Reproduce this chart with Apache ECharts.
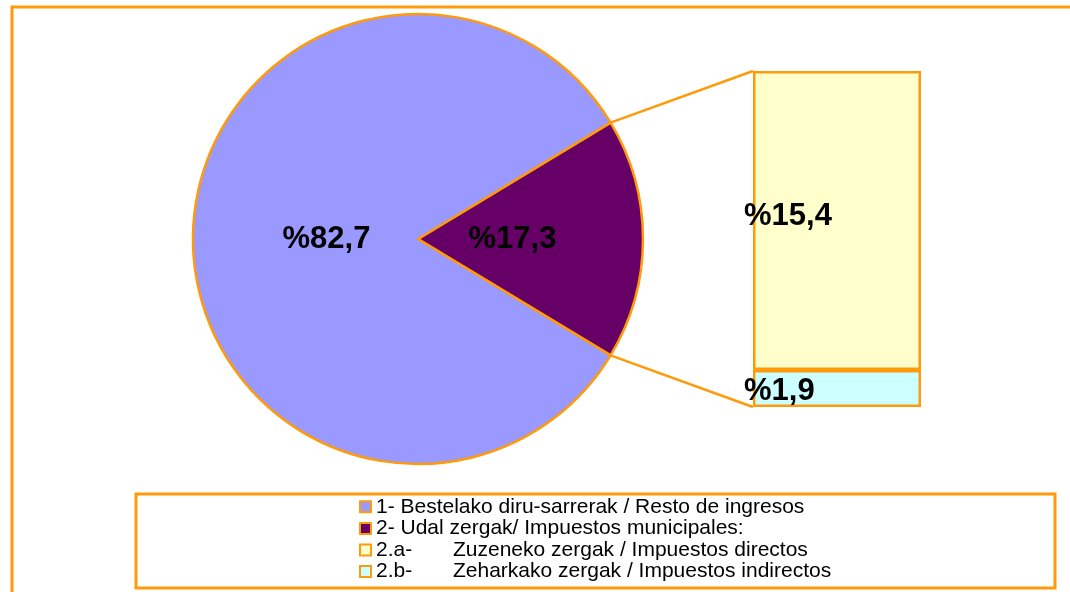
<!DOCTYPE html>
<html>
<head>
<meta charset="utf-8">
<script src="https://cdn.jsdelivr.net/npm/echarts@6/dist/echarts.min.js"></script>
<style>
  html, body { margin: 0; padding: 0; background: #fff; }
  #chart { width: 1070px; height: 592px; }
</style>
</head>
<body>
<div id="chart"></div>
<script>
// pie: share of municipal taxes vs the rest
const pieNames = ['2- Udal zergak/ Impuestos municipales:', '1- Bestelako diru-sarrerak / Resto de ingresos']
const pieValues = [17.3, 82.7]
const pieLabels = ['%17,3', '%82,7']
const pieColors = ['#660066', '#9999ff']

// bar: breakdown of the 17.3 slice (bottom first)
const barNames = ['2.b-\tZeharkako zergak / Impuestos indirectos', '2.a-\tZuzeneko zergak / Impuestos directos']
const barValues = [1.9, 15.4]
const barLabels = ['%1,9', '%15,4']
const barColors = ['#ccffff', '#ffffcc']

const orange = '#ff9a0a'
const center = [418, 239]
const radius = 225
const barBox = { left: 753, top: 71, width: 168, height: 336 }

const chart = echarts.init(document.getElementById('chart'))

const sliceDeg = pieValues[0] / (pieValues[0] + pieValues[1]) * 360
const half = sliceDeg / 2

const pieData = pieValues.map((v, i) => ({
  name: pieNames[i],
  value: v,
  itemStyle: { color: pieColors[i] },
  label: {
    formatter: pieLabels[i],
    padding: i === 0 ? [0, 42, 0, 0] : [0, 0, 0, 48]
  }
}))

const barSeries = barValues.map((v, i) => ({
  name: barNames[i],
  type: 'bar',
  stack: 'split',
  barWidth: '100%',
  data: [v],
  itemStyle: { color: barColors[i], borderColor: orange, borderWidth: 2.5 },
  label: {
    show: true,
    position: 'insideLeft',
    distance: 0,
    offset: [-9, i === 0 ? 3 : -4],
    formatter: barLabels[i],
    color: '#000',
    fontSize: 31,
    fontWeight: 'bold',
    fontFamily: 'Liberation Sans'
  },
  emphasis: { disabled: true }
}))

// connector lines from the slice edge to the bar corners
const rad = half * Math.PI / 180
const p1 = [center[0] + radius * Math.cos(rad), center[1] - radius * Math.sin(rad)]
const p2 = [center[0] + radius * Math.cos(rad), center[1] + radius * Math.sin(rad)]

const option = {
  animation: false,
  textStyle: { fontFamily: 'Liberation Sans' },
  graphic: [
    { type: 'rect', shape: { x: 12, y: 7, width: 1100, height: 700 }, style: { fill: null, stroke: orange, lineWidth: 3 }, silent: true },
    { type: 'rect', shape: { x: 136, y: 494, width: 919, height: 94 }, style: { fill: '#fff', stroke: orange, lineWidth: 3 }, silent: true, z: -1 },
    { type: 'line', shape: { x1: p1[0], y1: p1[1], x2: barBox.left, y2: barBox.top }, style: { stroke: orange, lineWidth: 2.5 }, silent: true },
    { type: 'line', shape: { x1: p2[0], y1: p2[1], x2: barBox.left, y2: barBox.top + barBox.height }, style: { stroke: orange, lineWidth: 2.5 }, silent: true }
  ],
  legend: {
    orient: 'vertical',
    left: 359,
    top: 496,
    padding: 0,
    itemWidth: 11,
    itemHeight: 11,
    itemGap: 0,
    icon: 'rect',
    selectedMode: false,
    itemStyle: { borderColor: orange, borderWidth: 2 },
    data: [pieNames[1], pieNames[0], barNames[1], barNames[0]],
    formatter: function (name) {
      if (name.indexOf('\t') < 0) return name
      const parts = name.split('\t')
      return '{a|' + parts[0] + '}{b|' + parts[1] + '}'
    },
    textStyle: {
      color: '#000',
      fontSize: 21,
      lineHeight: 21.6,
      fontFamily: 'Liberation Sans',
      rich: {
        a: { width: 77, fontSize: 21, lineHeight: 21.6, color: '#000', fontFamily: 'Liberation Sans' },
        b: { fontSize: 21, lineHeight: 21.6, color: '#000', fontFamily: 'Liberation Sans' }
      }
    }
  },
  grid: { left: barBox.left, top: barBox.top, width: barBox.width, height: barBox.height },
  xAxis: { type: 'category', data: ['2'], show: false },
  yAxis: { type: 'value', min: 0, max: pieValues[0], show: false },
  series: [
    {
      type: 'pie',
      center: center,
      radius: [0, radius],
      startAngle: half,
      clockwise: true,
      data: pieData,
      itemStyle: { borderColor: orange, borderWidth: 2.5 },
      label: {
        show: true,
        position: 'inner',
        color: '#000',
        fontSize: 31,
        fontWeight: 'bold',
        fontFamily: 'Liberation Sans'
      },
      labelLine: { show: false },
      emphasis: { disabled: true }
    }
  ].concat(barSeries)
}

chart.setOption(option)
</script>
</body>
</html>
